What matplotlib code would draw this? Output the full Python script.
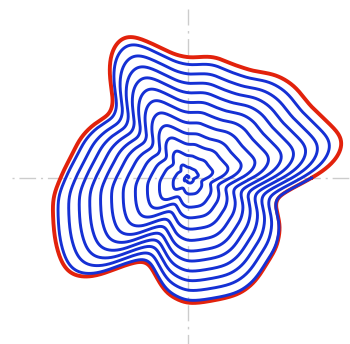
import numpy as np
import matplotlib
matplotlib.use('Agg')
import matplotlib.pyplot as plt

# outline of the blob: radius (px from centre) at a set of polar angles (deg)
outer_angle = [0.5, 5.6, 11.3, 15.0, 20.4, 30.3, 41.4, 49.3, 58.5, 68.2, 78.3, 89.2,
               97.0, 105.9, 112.2, 114.7, 119.8, 122.9, 128.7, 133.4, 141.3, 151.0,
               159.0, 169.8, 181.0, 188.0, 197.4, 207.7, 215.5, 220.7, 227.2, 231.2,
               239.6, 245.9, 252.3, 259.4, 269.2, 281.5, 294.1, 301.6, 312.4, 322.0,
               331.9, 341.5, 347.9, 355.1]
outer_radius = [125.0, 145.7, 158.0, 159.5, 151.0, 141.0, 140.0, 135.3, 124.3, 121.3,
                123.7, 119.3, 123.7, 139.7, 154.5, 156.0, 151.0, 144.0, 125.3, 106.7,
                100.3, 108.7, 114.3, 118.7, 128.3, 136.3, 141.3, 148.7, 153.3, 151.7,
                135.0, 114.3, 95.3, 94.0, 104.0, 117.7, 125.7, 125.0, 126.7, 124.0,
                116.0, 112.0, 104.0, 91.3, 90.3, 105.3]

# how far out the spiral is (fraction of the outline) after each turn
turn_angle = [0, 270, 630, 990, 1350, 1710, 2070, 2430, 2790, 3150, 3510, 3870, 4230, 4320]
turn_frac = [0.0, 0.04, 0.13, 0.235, 0.32, 0.41, 0.5, 0.585, 0.665, 0.745, 0.822,
             0.9, 0.979, 1.0]

# smooth periodic outline on a fine grid
step = 0.25
grid = np.arange(0, 360, step)
R = np.interp(grid, outer_angle, outer_radius, period=360)
k = np.arange(-40, 41) * step
kern = np.exp(-0.5 * (k / 3.0) ** 2)
kern /= kern.sum()
n = len(kern) // 2
R = np.convolve(np.concatenate([R[-n:], R, R[:n]]), kern, mode='valid')

def outline(theta_deg):
    return np.interp(np.mod(theta_deg, 360), grid, R, period=360)

fig = plt.figure(figsize=(3.5, 3.44), dpi=100)
ax = fig.add_axes([0, 0, 1, 1])
ax.set_xlim(-188.3, 161.7)
ax.set_ylim(-166.3, 177.7)
ax.axis('off')

# dash-dot cross through the origin
ax.plot([-176.3, 161.7], [0, 0], color='#cccccc', lw=1.0, linestyle=(0, (1.5, 3.5, 12, 3.5)), zorder=1)
ax.plot([0, 0], [168.7, -166.3], color='#cccccc', lw=1.0, linestyle=(0, (11.5, 4, 1.8, 4)), zorder=1)

# red outline
th = np.arange(0, 360 + step, step)
r = outline(th)
ax.plot(r * np.cos(np.radians(th)), r * np.sin(np.radians(th)), color='#e2220c', lw=2.8,
        solid_capstyle='round', zorder=2)

# blue spiral
phi = np.arange(0, turn_angle[-1] + step, step)
rs = outline(phi) * np.interp(phi, turn_angle, turn_frac)
ax.plot(rs * np.cos(np.radians(phi)), rs * np.sin(np.radians(phi)), color='#1530d4', lw=2.1,
        solid_capstyle='round', zorder=3)

plt.savefig('out.png', dpi=100)
